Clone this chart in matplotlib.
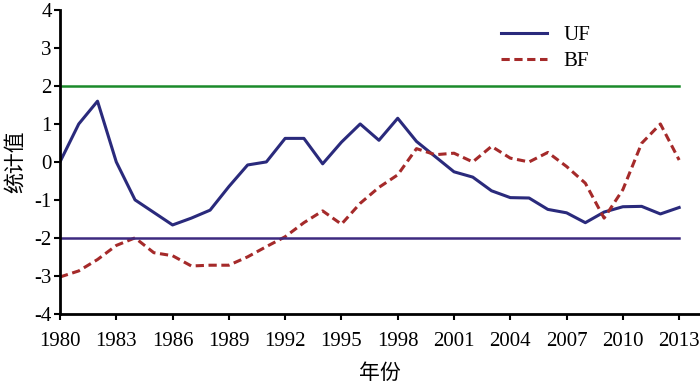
import matplotlib.pyplot as plt
import numpy as np

plt.rcParams['font.family'] = ['Liberation Serif', 'Noto Sans CJK SC']
plt.rcParams['axes.unicode_minus'] = False

years = np.arange(1980, 2014)

uf = [0.0, 1.0, 1.6, 0.0, -1.0, -1.33, -1.66, -1.48, -1.27, -0.65, -0.08, 0.0,
      0.62, 0.62, -0.05, 0.52, 1.0, 0.57, 1.15, 0.54, 0.14, -0.26, -0.40, -0.76,
      -0.94, -0.95, -1.25, -1.34, -1.60, -1.32, -1.18, -1.17, -1.37, -1.20]

bf = [-3.03, -2.87, -2.57, -2.2, -2.0, -2.39, -2.47, -2.74, -2.72, -2.72, -2.5, -2.23,
      -1.97, -1.6, -1.29, -1.64, -1.09, -0.67, -0.34, 0.35, 0.19, 0.23, 0.0, 0.41,
      0.10, 0.0, 0.25, -0.12, -0.56, -1.48, -0.73, 0.49, 1.0, 0.05]

upper = 2
lower = -2

fig = plt.figure(figsize=(7, 3.86), dpi=100)
ax = fig.add_axes([0.0857, 0.187, 0.914, 0.787])

ax.plot(years, uf, color='#2a2a7c', lw=2.2, label='UF')
ax.plot(years, bf, color='#a52a2a', lw=2.2, ls=(0, (2.7, 1.5)), label='BF')
ax.plot([years[0], years[-1]], [upper, upper], color='#1a8a2a', lw=1.8)
ax.plot([years[0], years[-1]], [lower, lower], color='#3d2a80', lw=1.8)

ax.set_xlim(1980, 2014.1)
ax.set_ylim(-4, 4)
ax.set_xticks(np.arange(1980, 2014, 3))
ax.set_yticks(np.arange(-4, 5, 1))

for s in ['top', 'right']:
    ax.spines[s].set_visible(False)
for s in ['left', 'bottom']:
    ax.spines[s].set_linewidth(2)
ax.tick_params(direction='out', length=4, width=1.5, labelsize=15, pad=2)
ax.tick_params(axis='x', pad=9)

ax.set_xlabel('年份', fontsize=15, family=['Noto Sans CJK SC'], labelpad=8)
ax.set_ylabel('统计值', fontsize=15, family=['Noto Sans CJK SC'], labelpad=6)

ax.legend(loc='upper left', bbox_to_anchor=(0.66, 1.01), frameon=False,
          fontsize=15, handlelength=2.2, labelspacing=0.3)

fig.savefig('out.png')
